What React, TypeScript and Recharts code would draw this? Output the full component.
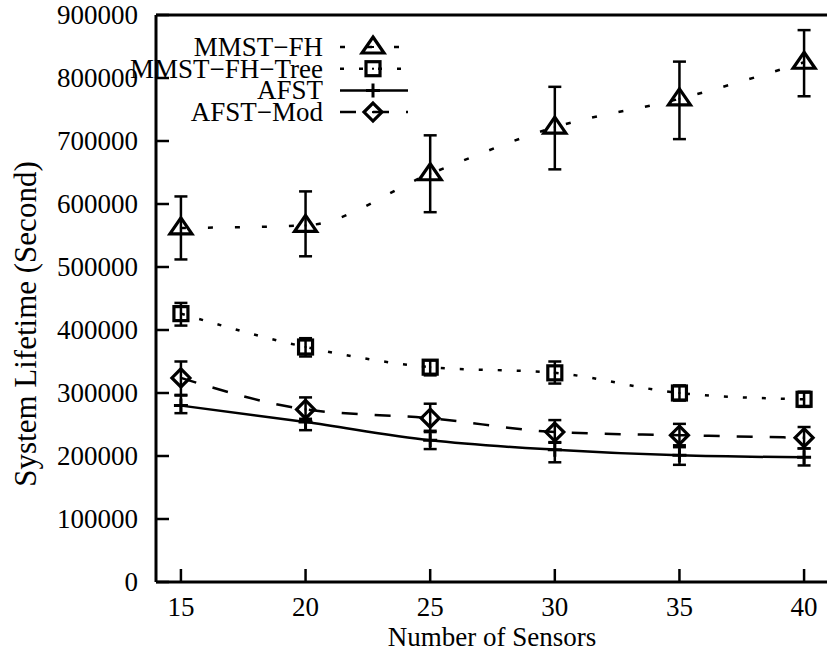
import { ComposedChart, Line, XAxis, YAxis, ErrorBar, Legend } from "recharts";

// number of sensors (x)
const sensors = [15, 20, 25, 30, 35, 40];

// MMST-FH
const mmstFh = [562000, 566000, 648000, 722000, 767000, 825000];
const mmstFhLow = [512000, 517000, 587000, 655000, 703000, 771000];
const mmstFhHigh = [612000, 620000, 709000, 786000, 826000, 876000];

// MMST-FH-Tree
const tree = [426000, 373000, 341000, 332000, 300000, 290000];
const treeLow = [407000, 358000, 328000, 315000, 288000, 278000];
const treeHigh = [443000, 387000, 352000, 350000, 312000, 302000];

// AFST
const afst = [280000, 254000, 225000, 210000, 201000, 198000];
const afstLow = [268000, 241000, 211000, 190000, 186000, 185000];
const afstHigh = [296000, 259000, 238000, 222000, 214000, 212000];

// AFST-Mod
const afstMod = [324000, 274000, 260000, 238000, 233000, 229000];
const afstModLow = [297000, 256000, 240000, 221000, 217000, 212000];
const afstModHigh = [350000, 293000, 283000, 257000, 251000, 246000];

const xTicks = [15, 20, 25, 30, 35, 40];
const yTicks = [0, 100000, 200000, 300000, 400000, 500000, 600000, 700000, 800000, 900000];

const names = ["MMST\u2212FH", "MMST\u2212FH\u2212Tree", "AFST", "AFST\u2212Mod"];

const FONT = "'Liberation Serif', 'Times New Roman', serif";
const FS = 27;
const INK = "#000";

const rows = sensors.map((n, i) => ({
  n,
  fh: mmstFh[i],
  fhErr: [mmstFh[i] - mmstFhLow[i], mmstFhHigh[i] - mmstFh[i]],
  tree: tree[i],
  treeErr: [tree[i] - treeLow[i], treeHigh[i] - tree[i]],
  afst: afst[i],
  afstErr: [afst[i] - afstLow[i], afstHigh[i] - afst[i]],
  mod: afstMod[i],
  modErr: [afstMod[i] - afstModLow[i], afstModHigh[i] - afstMod[i]],
}));

// point shapes, gnuplot style
const Tri = ({ cx, cy }: { cx: number; cy: number }) => (
  <g>
    <path d={`M${cx},${cy - 10}L${cx + 11},${cy + 6}L${cx - 11},${cy + 6}Z`} fill="none" stroke={INK} strokeWidth={3.2} />
    <rect x={cx - 1} y={cy - 1} width={2} height={2} fill={INK} />
  </g>
);
const Sq = ({ cx, cy }: { cx: number; cy: number }) => (
  <g>
    <rect x={cx - 7} y={cy - 7} width={14} height={14} fill="none" stroke={INK} strokeWidth={3.2} />
    <rect x={cx - 1} y={cy - 1} width={2} height={2} fill={INK} />
  </g>
);
const Plus = ({ cx, cy }: { cx: number; cy: number }) => (
  <path d={`M${cx - 7},${cy}H${cx + 7}M${cx},${cy - 7}V${cy + 7}`} stroke={INK} strokeWidth={3} />
);
const Dia = ({ cx, cy }: { cx: number; cy: number }) => (
  <g>
    <path d={`M${cx},${cy - 9}L${cx + 9},${cy}L${cx},${cy + 9}L${cx - 9},${cy}Z`} fill="none" stroke={INK} strokeWidth={3.2} />
    <rect x={cx - 1} y={cy - 1} width={2} height={2} fill={INK} />
  </g>
);

const series = [
  { key: "fh", err: "fhErr", dash: "5 22", Mark: Tri },
  { key: "tree", err: "treeErr", dash: "4 15", Mark: Sq },
  { key: "afst", err: "afstErr", dash: undefined, Mark: Plus },
  { key: "mod", err: "modErr", dash: "16 17", Mark: Dia },
];

const BottomTick = (p: any) => (
  <g>
    <line x1={p.x} y1={p.y} x2={p.x} y2={p.y - 13} stroke={INK} strokeWidth={2.5} />
    <text x={p.x} y={p.y + 34} textAnchor="middle" fontFamily={FONT} fontSize={FS} fill={INK}>
      {p.payload.value}
    </text>
  </g>
);
const TopTick = (p: any) => (
  <line x1={p.x} y1={p.y} x2={p.x} y2={p.y + 13} stroke={INK} strokeWidth={2.5} />
);
const LeftTick = (p: any) => (
  <g>
    <line x1={p.x} y1={p.y} x2={p.x + 13} y2={p.y} stroke={INK} strokeWidth={2.5} />
    <text x={p.x - 18} y={p.y + 9} textAnchor="end" fontFamily={FONT} fontSize={FS} fill={INK}>
      {p.payload.value}
    </text>
  </g>
);
const RightTick = (p: any) => (
  <line x1={p.x} y1={p.y} x2={p.x - 13} y2={p.y} stroke={INK} strokeWidth={2.5} />
);

const XLabel = () => (
  <text x={492} y={646} textAnchor="middle" fontFamily={FONT} fontSize={FS} fill={INK}>
    Number of Sensors
  </text>
);
const YLabel = () => (
  <text transform="translate(36,324) rotate(-90)" textAnchor="middle" fontFamily={FONT} fontSize={31} fill={INK}>
    System Lifetime (Second)
  </text>
);

function KeyBox() {
  return (
    <svg width={420} height={130} style={{ overflow: "visible" }}>
      {series.map((s, i) => {
        const y = 47 + i * 21.7;
        const M = s.Mark;
        return (
          <g key={s.key}>
            <text x={323} y={y + 9} textAnchor="end" fontFamily={FONT} fontSize={FS} fill={INK}>
              {names[i]}
            </text>
            <line x1={340} y1={y} x2={408} y2={y} stroke={INK} strokeWidth={2.5} strokeDasharray={s.dash} />
            <M cx={373} cy={y} />
          </g>
        );
      })}
    </svg>
  );
}

export default function App() {
  return (
    <div style={{ position: "absolute", left: 0, top: 0, width: 827, height: 659, overflow: "hidden", background: "#fff" }}>
      <ComposedChart width={850} height={659} data={rows} margin={{ top: 14, right: 20, left: 0, bottom: 76 }}>
        <XAxis
          dataKey="n"
          type="number"
          domain={[14, 41]}
          ticks={xTicks}
          interval={0}
          height={1}
          tickSize={0}
          tickMargin={0}
          tickLine={false}
          axisLine={{ stroke: INK, strokeWidth: 3 }}
          tick={BottomTick}
          label={<XLabel />}
        />
        <XAxis
          xAxisId="top"
          orientation="top"
          type="number"
          domain={[14, 41]}
          ticks={xTicks}
          interval={0}
          height={1}
          tickSize={0}
          tickMargin={0}
          tickLine={false}
          axisLine={{ stroke: INK, strokeWidth: 3 }}
          tick={TopTick}
        />
        <YAxis
          type="number"
          domain={[0, 900000]}
          ticks={yTicks}
          interval={0}
          width={156}
          tickSize={0}
          tickMargin={0}
          tickLine={false}
          axisLine={{ stroke: INK, strokeWidth: 3 }}
          tick={LeftTick}
          label={<YLabel />}
        />
        <YAxis
          yAxisId="r"
          orientation="right"
          type="number"
          domain={[0, 900000]}
          ticks={yTicks}
          interval={0}
          width={1}
          tickSize={0}
          tickMargin={0}
          tickLine={false}
          axisLine={{ stroke: INK, strokeWidth: 3 }}
          tick={RightTick}
        />
        <Legend
          layout="horizontal"
          verticalAlign="middle"
          align="center"
          wrapperStyle={{ left: 0, top: 0, width: 420, height: 130 }}
          content={() => <KeyBox />}
        />
        {series.map((s) => (
          <Line
            key={s.key}
            dataKey={s.key}
            type="monotone"
            stroke={INK}
            strokeWidth={2.5}
            strokeDasharray={s.dash}
            isAnimationActive={false}
            dot={(p: any) => <s.Mark key={`${s.key}-${p.index}`} cx={p.cx} cy={p.cy} />}
            activeDot={false}
          >
            <ErrorBar dataKey={s.err} direction="y" width={6.5} strokeWidth={2.5} stroke={INK} />
          </Line>
        ))}
      </ComposedChart>
    </div>
  );
}
